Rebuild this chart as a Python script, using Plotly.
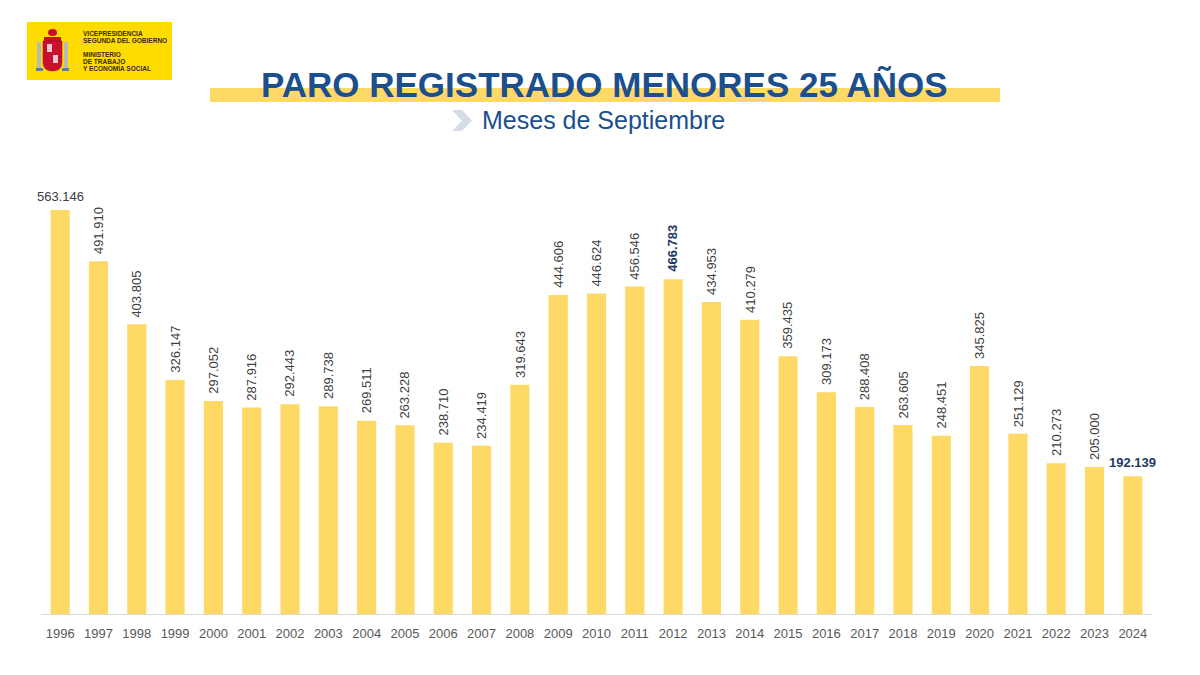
import plotly.graph_objects as go

years = [str(y) for y in range(1996, 2025)]
values = [563146, 491910, 403805, 326147, 297052, 287916, 292443, 289738,
          269511, 263228, 238710, 234419, 319643, 444606, 446624, 456546,
          466783, 434953, 410279, 359435, 309173, 288408, 263605, 248451,
          345825, 251129, 210273, 205000, 192139]
labels = [f"{v:,}".replace(",", ".") for v in values]

title = "PARO REGISTRADO MENORES 25 AÑOS"
subtitle = "Meses de Septiembre"
logo_lines_top = ["VICEPRESIDENCIA", "SEGUNDA DEL GOBIERNO"]
logo_lines_bottom = ["MINISTERIO", "DE TRABAJO", "Y ECONOMÍA SOCIAL"]

# page has an 8px body margin; figure coordinates are page coordinates minus 8
OFF = 8
W, H = 1200 - OFF, 675 - OFF
L, T = 41 - OFF, 180 - OFF
R = W - (1152 - OFF)
B = H - (614 - OFF)
PW = W - L - R
PH = H - T - B

def px(x):
    return (x - OFF - L) / PW

def py(y):
    return (H - B - (y - OFF)) / PH

FONT = "Arial, Liberation Sans, sans-serif"
BAR = "#FFD966"
NAVY = "#1F3864"
BLUE = "#1B4F8E"
GRAY = "#404040"

fig = go.Figure(go.Bar(x=years, y=values, marker_color=BAR, marker_line_width=0,
                       hoverinfo="x+y"))

ann = []
for i, (yr, v, lab) in enumerate(zip(years, values, labels)):
    if i == 0:
        ann.append(dict(x=i, y=v, xref="x", yref="y", text=lab, showarrow=False,
                        yanchor="bottom", yshift=4,
                        font=dict(family=FONT, size=13, color=GRAY)))
    elif i == len(years) - 1:
        ann.append(dict(x=i, y=v, xref="x", yref="y", text="<b>" + lab + "</b>",
                        showarrow=False, yanchor="bottom", yshift=4,
                        font=dict(family=FONT, size=13, color=NAVY)))
    elif yr == "2012":
        ann.append(dict(x=i, y=v, xref="x", yref="y", text="<b>" + lab + "</b>",
                        showarrow=False, yanchor="bottom", yshift=5, textangle=-90,
                        font=dict(family=FONT, size=13, color=NAVY)))
    else:
        ann.append(dict(x=i, y=v, xref="x", yref="y", text=lab, showarrow=False,
                        yanchor="bottom", yshift=5, textangle=-90,
                        font=dict(family=FONT, size=13, color=GRAY)))

# Title and subtitle
ann.append(dict(x=px(603.5), y=py(84), xref="paper", yref="paper",
                text="<b>" + title + "</b>", showarrow=False,
                xanchor="center", yanchor="middle",
                font=dict(family=FONT, size=35, color=BLUE)))
ann.append(dict(x=px(603), y=py(120), xref="paper", yref="paper",
                text=subtitle, showarrow=False, xanchor="center", yanchor="middle",
                font=dict(family=FONT, size=25, color=BLUE)))

# Logo texts
for j, t in enumerate(logo_lines_top):
    ann.append(dict(x=px(81), y=py(33 + j * 7), xref="paper", yref="paper",
                    text="<b>" + t + "</b>",
                    showarrow=False, xanchor="left", yanchor="middle",
                    font=dict(family=FONT, size=6.5, color="#3A2A10")))
for j, t in enumerate(logo_lines_bottom):
    ann.append(dict(x=px(81), y=py(54 + j * 7), xref="paper", yref="paper",
                    text="<b>" + t + "</b>",
                    showarrow=False, xanchor="left", yanchor="middle",
                    font=dict(family=FONT, size=6.5, color="#3A2A10")))

shapes = []
def rect(x0, y0, x1, y1, color, layer="below"):
    shapes.append(dict(type="rect", xref="paper", yref="paper",
                       x0=px(x0), x1=px(x1), y0=py(y1), y1=py(y0),
                       fillcolor=color, line_width=0, layer=layer))

def P(x, y):
    return f"{px(x)},{py(y)}"

# Title band
rect(210, 88, 1000, 102, "#FFD966")
# Chevron
shapes.append(dict(type="path", xref="paper", yref="paper",
                   path=f"M {P(452,110)} L {P(462,110)} L {P(472,120.5)} L {P(462,131)} L {P(452,131)} L {P(462,120.5)} Z",
                   fillcolor="#D5DCE6", line_width=0))
# Logo
rect(27, 22, 172, 80, "#FFDC00")
# coat of arms approximation
rect(37, 42, 41, 70, "#B9B9B9", layer="above")
rect(64, 42, 68, 70, "#B9B9B9", layer="above")
rect(44, 37, 61, 41, "#C8102E", layer="above")
shapes.append(dict(type="path", xref="paper", yref="paper",
                   path=f"M {P(43,41)} L {P(62,41)} L {P(62,62)} Q {P(62,71)} {P(52.5,71)} Q {P(43,71)} {P(43,62)} Z",
                   fillcolor="#C8102E", line=dict(color="#8A1020", width=0.5), layer="above"))
rect(47, 44, 52, 52, "#E8C8D0", layer="above")
rect(53, 55, 58, 63, "#E8C8D0", layer="above")
shapes.append(dict(type="circle", xref="paper", yref="paper",
                   x0=px(48), x1=px(57), y0=py(36), y1=py(29),
                   fillcolor="#C8102E", line_width=0, layer="above"))
rect(36, 68, 43, 71, "#5A7DB0", layer="above")
rect(62, 68, 69, 71, "#5A7DB0", layer="above")

fig.update_layout(
    width=W, height=H,
    margin=dict(l=L, r=R, t=T, b=B),
    paper_bgcolor="white", plot_bgcolor="white",
    bargap=0.5,
    showlegend=False,
    annotations=ann,
    shapes=shapes,
    xaxis=dict(type="category", range=[-0.5, len(years) - 0.5], showline=True,
               linecolor="#D9D9D9", linewidth=1,
               showgrid=False, zeroline=False, ticks="outside", ticklen=7,
               tickcolor="rgba(0,0,0,0)",
               tickfont=dict(family=FONT, size=13, color="#595959")),
    yaxis=dict(range=[0, 605000], visible=False, showgrid=False, zeroline=False),
)

fig.write_html("out.html")
